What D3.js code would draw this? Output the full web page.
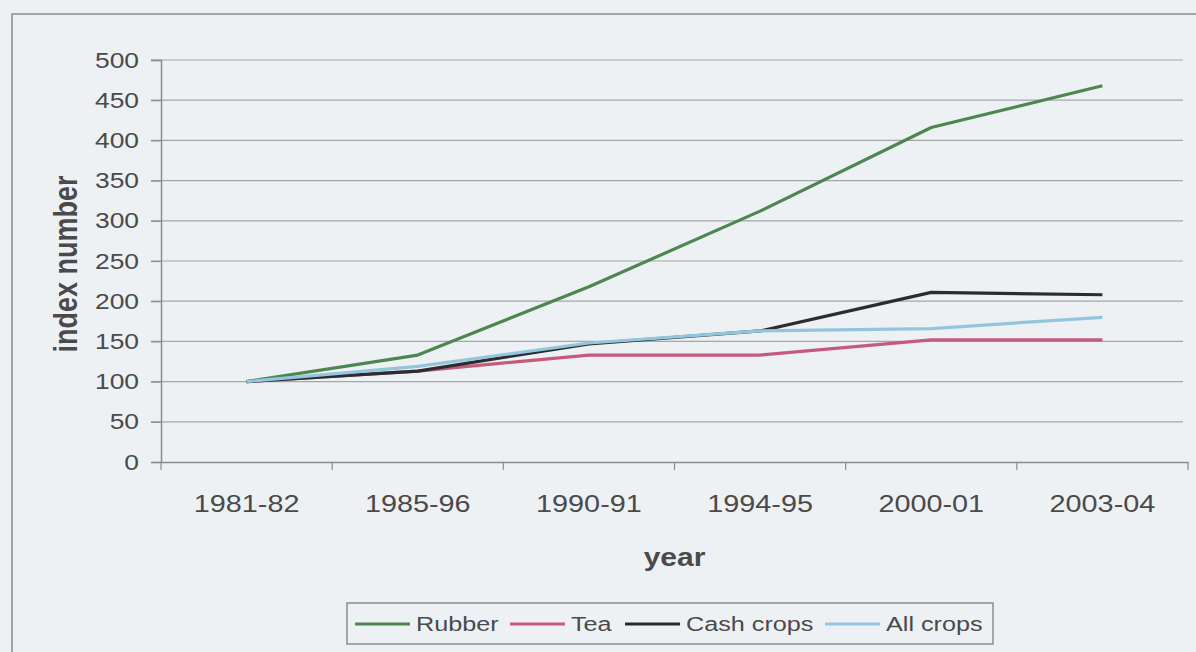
<!DOCTYPE html>
<html>
<head>
<meta charset="utf-8">
<script src="https://cdn.jsdelivr.net/npm/d3@7"></script>
<style>
  body { margin: 0; background: #eef1f3; }
  svg { display: block; font-family: "Liberation Sans", Arial, sans-serif; }
</style>
</head>
<body>
<div id="chart"></div>
<script>
// data
var years = ["1981-82", "1985-96", "1990-91", "1994-95", "2000-01", "2003-04"];
var rubber = [100, 133, 218, 312, 416, 468];
var tea = [100, 113, 133, 133, 152, 152];
var cashCrops = [100, 113, 147, 163, 211, 208];
var allCrops = [100, 119, 148, 163, 166, 180];
var yTicks = [0, 50, 100, 150, 200, 250, 300, 350, 400, 450, 500];

var seriesNames = ["Rubber", "Tea", "Cash crops", "All crops"];
var seriesValues = [rubber, tea, cashCrops, allCrops];
var colors = ["#4e8650", "#c65a7c", "#2a2c31", "#93c6de"];

// the scanned chart is a little wider than tall, so text is stretched in x
var stretch = 1.2;
var textColor = "#4a4a4c";

var W = 1196, H = 652;
var margin = { top: 60, right: 8, bottom: 190, left: 161 },
    width = W - margin.left - margin.right,
    height = H - margin.top - margin.bottom;

var root = d3.select("#chart").append("svg")
    .attr("width", W)
    .attr("height", H);

// outer chart frame (cut by the page edge)
root.append("path")
    .attr("d", "M12," + H + "V14H" + W)
    .attr("fill", "none")
    .attr("stroke", "#8a8c8e")
    .attr("stroke-width", 1.5);

var svg = root.append("g")
    .attr("transform", "translate(" + margin.left + "," + margin.top + ")");

var x = d3.scaleBand()
    .domain(years)
    .range([0, width]);

var y = d3.scaleLinear()
    .domain([0, 500])
    .range([height, 0]);

// gridlines
svg.append("g")
    .selectAll("line")
    .data(yTicks.filter(function (d) { return d > 0; }))
    .enter().append("line")
    .attr("x1", -10)
    .attr("x2", width - 5)
    .attr("y1", function (d) { return y(d); })
    .attr("y2", function (d) { return y(d); })
    .attr("stroke", "#a4a6a8")
    .attr("stroke-width", 1.2);

// Y axis
var yAxis = svg.append("g")
    .call(d3.axisLeft(y).tickValues(yTicks).tickSize(10));
yAxis.select(".domain").attr("stroke", "#8a8c8e").attr("stroke-width", 1.5);
yAxis.selectAll(".tick line").attr("stroke", "#8a8c8e").attr("stroke-width", 1.2);
yAxis.selectAll("text")
    .attr("x", 0)
    .attr("transform", "translate(-22,0) scale(" + stretch + ",1)")
    .attr("fill", textColor)
    .style("font-size", "22px");

// X axis: labels at category centres, ticks between categories
var xAxis = svg.append("g")
    .attr("transform", "translate(0," + height + ")")
    .call(d3.axisBottom(x).tickSize(0).tickPadding(33));
xAxis.select(".domain").attr("stroke", "#8a8c8e").attr("stroke-width", 1.5);
xAxis.selectAll("text")
    .attr("transform", "scale(" + stretch + ",1)")
    .attr("fill", textColor)
    .style("font-size", "24px");

xAxis.selectAll(".sep")
    .data(years.concat(["end"]))
    .enter().append("line")
    .attr("class", "sep")
    .attr("x1", function (d) { return d === "end" ? width : x(d); })
    .attr("x2", function (d) { return d === "end" ? width : x(d); })
    .attr("y1", 0)
    .attr("y2", 8)
    .attr("stroke", "#8a8c8e")
    .attr("stroke-width", 1.2);

// axis titles
svg.append("text")
    .attr("transform", "translate(" + (-95) + "," + (height / 2 + 3) + ") scale(" + stretch + ",1) rotate(-90)")
    .attr("text-anchor", "middle")
    .attr("dy", "0.35em")
    .attr("fill", textColor)
    .style("font-size", "27px")
    .style("font-weight", "bold")
    .text("index number");

svg.append("text")
    .attr("transform", "translate(" + (width / 2) + "," + (height + 95) + ") scale(" + stretch + ",1)")
    .attr("text-anchor", "middle")
    .attr("dy", "0.35em")
    .attr("fill", textColor)
    .style("font-size", "25px")
    .style("font-weight", "bold")
    .text("year");

// lines
var line = d3.line()
    .x(function (d, i) { return x(years[i]) + x.bandwidth() / 2; })
    .y(function (d) { return y(d); });

svg.append("g")
    .selectAll("path")
    .data(seriesValues)
    .enter().append("path")
    .attr("d", function (d) { return line(d); })
    .attr("fill", "none")
    .attr("stroke", function (d, i) { return colors[i]; })
    .attr("stroke-width", 3.2)
    .attr("stroke-linejoin", "round");

// legend
var legendX = 347, legendY = 603;
var legend = root.append("g")
    .attr("transform", "translate(" + legendX + "," + legendY + ")");

legend.append("rect")
    .attr("width", 646)
    .attr("height", 41)
    .attr("fill", "none")
    .attr("stroke", "#8a8c8e")
    .attr("stroke-width", 1.5);

var itemX = [8, 163, 278, 478];
var item = legend.selectAll(".item")
    .data(seriesNames)
    .enter().append("g")
    .attr("class", "item")
    .attr("transform", function (d, i) { return "translate(" + itemX[i] + ",21)"; });

item.append("line")
    .attr("x1", 0)
    .attr("x2", 55)
    .attr("stroke", function (d, i) { return colors[i]; })
    .attr("stroke-width", 3.2);

item.append("text")
    .attr("transform", "translate(61,0) scale(" + stretch + ",1)")
    .attr("dy", "0.35em")
    .attr("fill", textColor)
    .style("font-size", "21px")
    .text(function (d) { return d; });
</script>
</body>
</html>
